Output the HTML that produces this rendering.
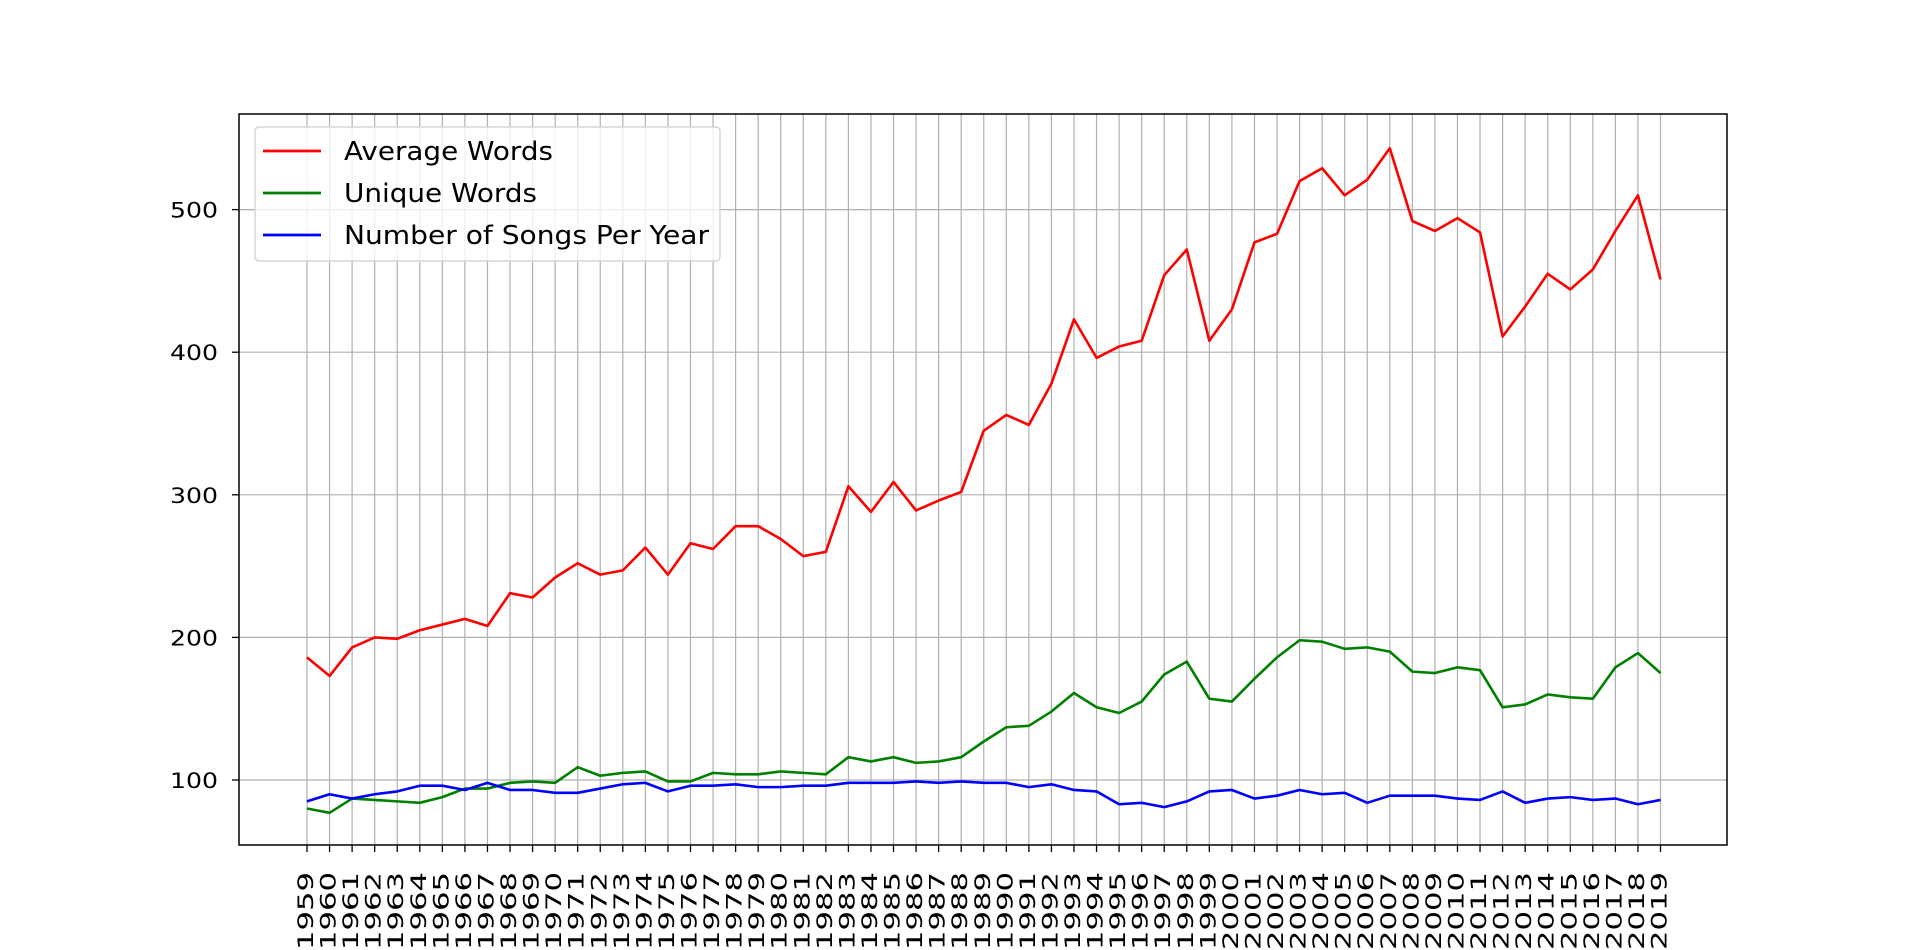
<!DOCTYPE html>
<html><head><meta charset="utf-8"><style>
html,body{margin:0;padding:0;background:#fff;}
svg{display:block;font-family:"DejaVu Sans","Liberation Sans",sans-serif;}
</style></head><body>
<svg id="chart" width="1920" height="950"></svg>
<script>
const years = [];
for (let y = 1959; y <= 2019; y++) years.push(String(y));
const averageWords = [186,173,193,200,199,205,209,213,208,231,228,242,252,244,247,263,244,266,262,278,278,269,257,260,306,288,309,289,296,302,345,356,349,378,423,396,404,408,454,472,408,430,477,483,520,529,510,521,543,492,485,494,484,411,432,455,444,458,485,510,451];
const uniqueWords = [80,77,87,86,85,84,88,94,94,98,99,98,109,103,105,106,99,99,105,104,104,106,105,104,116,113,116,112,113,116,127,137,138,148,161,151,147,155,174,183,157,155,171,186,198,197,192,193,190,176,175,179,177,151,153,160,158,157,179,189,175];
const songsPerYear = [85,90,87,90,92,96,96,93,98,93,93,91,91,94,97,98,92,96,96,97,95,95,96,96,98,98,98,99,98,99,98,98,95,97,93,92,83,84,81,85,92,93,87,89,93,90,91,84,89,89,89,87,86,92,84,87,88,86,87,83,86];
const yTicks = [100,200,300,400,500];

const NS = "http://www.w3.org/2000/svg";
const svg = document.getElementById('chart');
const L = 239, R = 1727, T = 114, B = 845;
const x = i => 307 + (1660.5 - 307) * i / (years.length - 1);
const y = v => 780 - (v - 100) * 1.426;
function mk(tag, attrs, parent) {
  const e = document.createElementNS(NS, tag);
  for (const k in attrs) e.setAttribute(k, attrs[k]);
  (parent || svg).appendChild(e);
  return e;
}
years.forEach((yr, i) => {
  const g = mk('line', {x1: x(i), x2: x(i), y1: T, y2: B, stroke: '#b0b0b0', 'stroke-width': 1.2});
  
  
});
yTicks.forEach(v => {
  const g = mk('line', {x1: L, x2: R, y1: y(v), y2: y(v), stroke: '#b0b0b0', 'stroke-width': 1.2});
  
  
  const t = mk('line', {x1: L - 7, x2: L, y1: y(v), y2: y(v), stroke: '#000', 'stroke-width': 1.3});
  
  
  const lb = mk('text', {x: 218, y: y(v) + 8, 'text-anchor': 'end', 'font-size': 21, textLength: 48, lengthAdjust: 'spacingAndGlyphs'});
  lb.textContent = v;
  
  
});
years.forEach((yr, i) => {
  const t = mk('line', {x1: x(i), x2: x(i), y1: B, y2: B + 7, stroke: '#000', 'stroke-width': 1.3});
  
  
  const lb = mk('text', {x: 0, y: 0, 'text-anchor': 'end', 'font-size': 21, textLength: 78, lengthAdjust: 'spacingAndGlyphs', transform: `translate(${x(i) + 6},872) rotate(-90)`});
  lb.textContent = yr;
  
  
});
function series(vals, color, name) {
  const p = mk('polyline', {points: vals.map((v, i) => x(i) + ',' + y(v)).join(' '), fill: 'none', stroke: color, 'stroke-width': 2.6, 'stroke-linejoin': 'round'});
  
  
}
series(averageWords, '#ff0000', 'average-words-line');
series(uniqueWords, '#008000', 'unique-words-line');
series(songsPerYear, '#0000ff', 'songs-per-year-line');
const frame = mk('rect', {x: L, y: T, width: R - L, height: B - T, fill: 'none', stroke: '#000', 'stroke-width': 1.5});


const lg = mk('g', {});


mk('rect', {x: 255, y: 127, width: 465, height: 134, rx: 4, fill: 'rgba(255,255,255,0.8)', stroke: '#d5d5d5', 'stroke-width': 1.5}, lg);
[['Average Words', '#ff0000', 151, 160, 209], ['Unique Words', '#008000', 193, 202, 193], ['Number of Songs Per Year', '#0000ff', 235, 244, 365]].forEach(([name, c, ly, by, w]) => {
  const e = mk('g', {}, lg);
  
  
  mk('line', {x1: 263, x2: 321, y1: ly, y2: ly, stroke: c, 'stroke-width': 2.8}, e);
  const t = mk('text', {x: 344, y: by, 'font-size': 26, textLength: w, lengthAdjust: 'spacingAndGlyphs'}, e);
  t.textContent = name;
});
</script>
</body></html>
